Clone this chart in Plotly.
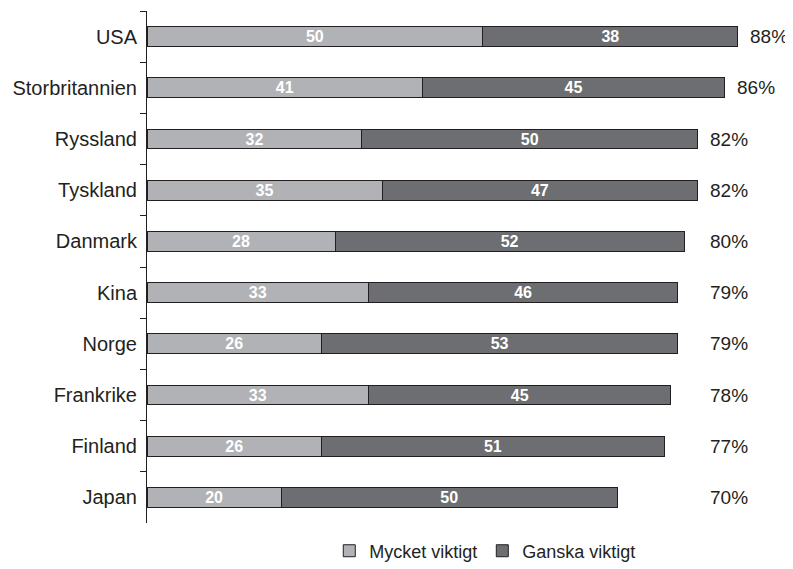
import plotly.graph_objects as go

categories = ["USA", "Storbritannien", "Ryssland", "Tyskland", "Danmark",
              "Kina", "Norge", "Frankrike", "Finland", "Japan"]
mycket = [50, 41, 32, 35, 28, 33, 26, 33, 26, 20]
ganska = [38, 45, 50, 47, 52, 46, 53, 45, 51, 50]
totals = [88, 86, 82, 82, 80, 79, 79, 78, 77, 70]
series_names = ["Mycket viktigt", "Ganska viktigt"]

FONT = "Liberation Sans, Arial, Helvetica, sans-serif"
LIGHT = "#b1b2b5"
DARK = "#6d6e71"
EDGE = "#231f20"

fig = go.Figure()
for name, vals, col in [(series_names[0], mycket, LIGHT), (series_names[1], ganska, DARK)]:
    fig.add_trace(go.Bar(
        y=categories, x=vals, name=name, orientation="h",
        marker=dict(color=col, line=dict(color=EDGE, width=1)),
        text=[str(v) for v in vals], textposition="inside",
        insidetextanchor="middle", constraintext="none",
        textfont=dict(family=FONT, size=16, color="white", weight="bold"),
        width=0.39,
    ))

label_floor = min(t for t in totals if t >= 82)
for cat, t in zip(categories, totals):
    fig.add_annotation(
        x=max(t, label_floor), y=cat, text=f"{t}%", showarrow=False,
        xanchor="left", xshift=10, font=dict(family=FONT, size=19, color="#231f20"),
    )

fig.update_layout(
    barmode="stack",
    width=785, height=561,
    margin=dict(l=139, r=8, t=3, b=46),
    paper_bgcolor="white", plot_bgcolor="white",
    font=dict(family=FONT, color="#231f20"),
    showlegend=True,
    legend=dict(orientation="h", xref="container", yref="container",
                x=0.608, xanchor="center", y=0.032, yanchor="middle",
                font=dict(family=FONT, size=18, color="#231f20"),
                itemwidth=30, traceorder="normal", tracegroupgap=0),
    xaxis=dict(range=[0, 95], visible=False, fixedrange=True, automargin=False),
    yaxis=dict(autorange="reversed", showline=True, linecolor=EDGE, linewidth=1,
               ticks="outside", tickson="boundaries", ticklen=6, tickcolor=EDGE,
               tickfont=dict(family=FONT, size=20, color="#231f20"),
               showgrid=False, ticklabelstandoff=5, automargin=False),
    bargap=0.6,
)

fig.write_html("out.html")
